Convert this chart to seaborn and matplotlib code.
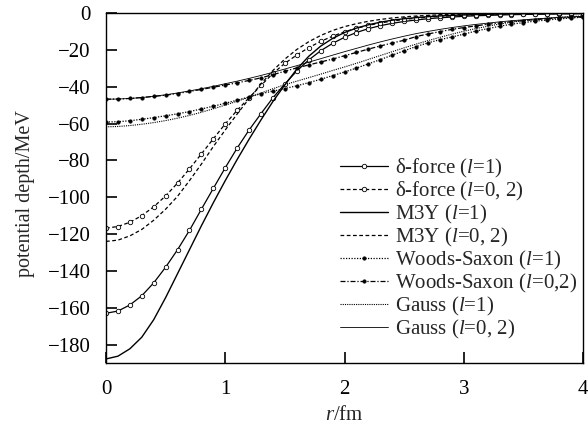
import numpy as np
import pandas as pd
import matplotlib
matplotlib.use("Agg")
import matplotlib.pyplot as plt
import seaborn as sns

# radial grid (fm)
r = [round(0.1 * i, 1) for i in range(41)]

delta_l1 = [-163.0, -161.8, -158.5, -153.5, -146.5, -138.0, -128.5, -118.0, -106.5, -95.2,
            -84.0, -73.3, -63.5, -54.6, -46.0, -38.5, -31.5, -25.5, -20.5, -16.5,
            -13.2, -10.6, -8.5, -6.9, -5.6, -4.6, -3.8, -3.1, -2.6, -2.2,
            -1.8, -1.5, -1.3, -1.1, -0.9, -0.8, -0.7, -0.6, -0.5, -0.45, -0.4]
delta_l02 = [-116.8, -115.9, -113.6, -110.0, -105.2, -99.3, -92.3, -84.6, -76.5, -68.3,
             -60.2, -52.8, -46.0, -39.3, -32.8, -27.3, -22.8, -18.8, -15.4, -12.6,
             -10.2, -8.3, -6.7, -5.4, -4.4, -3.5, -2.8, -2.3, -1.85, -1.5,
             -1.2, -1.0, -0.8, -0.65, -0.52, -0.42, -0.34, -0.28, -0.23, -0.19, -0.15]
m3y_l1 = [-187.8, -186.3, -182.3, -176.0, -166.5, -154.5, -141.5, -128.5, -115.5, -103.0,
          -91.0, -79.5, -68.5, -58.0, -48.0, -39.0, -30.5, -23.5, -18.0, -13.8,
          -10.6, -8.2, -6.4, -5.0, -3.9, -3.1, -2.5, -2.0, -1.6, -1.3,
          -1.05, -0.85, -0.7, -0.55, -0.45, -0.37, -0.3, -0.25, -0.2, -0.17, -0.14]
m3y_l02 = [-124.0, -123.3, -121.0, -117.5, -112.5, -106.5, -99.5, -91.0, -82.0, -72.5,
           -63.5, -54.8, -46.5, -38.5, -31.2, -25.0, -19.8, -15.6, -12.2, -9.5,
           -7.4, -5.8, -4.5, -3.5, -2.7, -2.1, -1.65, -1.3, -1.0, -0.8,
           -0.62, -0.5, -0.4, -0.32, -0.26, -0.21, -0.17, -0.14, -0.11, -0.09, -0.07]
ws_l1 = [-59.2, -59.0, -58.5, -57.7, -56.8, -55.8, -54.7, -53.5, -52.1, -50.6,
         -49.0, -47.3, -45.6, -43.8, -42.4, -41.0, -39.5, -37.8, -36.0, -34.0,
         -32.0, -29.9, -27.6, -25.3, -22.9, -20.5, -18.2, -16.2, -14.5, -13.0,
         -11.5, -9.8, -8.5, -7.2, -6.1, -5.2, -4.4, -3.8, -3.2, -2.7, -2.3]
ws_l02 = [-46.8, -46.7, -46.4, -45.9, -45.3, -44.6, -43.7, -42.6, -41.5, -40.3,
          -39.1, -37.9, -36.6, -35.2, -33.5, -31.6, -29.8, -28.2, -26.6, -25.0,
          -23.2, -21.4, -19.6, -17.9, -16.3, -14.8, -12.8, -11.4, -10.1, -8.9,
          -7.9, -7.0, -6.1, -5.4, -4.7, -4.1, -3.6, -3.1, -2.7, -2.4, -2.1]
gauss_l1 = [-61.8, -61.6, -61.1, -60.4, -59.5, -58.4, -57.1, -55.6, -53.9, -52.0,
            -50.0, -47.9, -45.7, -43.4, -41.1, -38.9, -37.0, -35.1, -33.2, -31.2,
            -29.3, -27.3, -25.2, -23.1, -21.0, -18.9, -16.9, -15.0, -13.2, -11.5,
            -9.9, -8.5, -7.2, -6.0, -5.0, -4.1, -3.4, -2.8, -2.3, -1.9, -1.6]
gauss_l02 = [-46.8, -46.7, -46.4, -45.9, -45.2, -44.4, -43.4, -42.3, -41.1, -39.8,
             -38.4, -37.0, -35.5, -33.9, -32.2, -30.4, -28.6, -26.7, -24.8, -22.9,
             -21.0, -19.2, -17.4, -15.7, -14.1, -12.6, -11.2, -10.0, -8.9, -7.9,
             -7.0, -6.2, -5.5, -4.8, -4.2, -3.7, -3.2, -2.8, -2.4, -2.1, -1.8]

labels = [r"δ-force ($\mathit{l}$=1)", r"δ-force ($\mathit{l}$=0, 2)",
          r"M3Y ($\mathit{l}$=1)", r"M3Y ($\mathit{l}$=0, 2)",
          r"Woods-Saxon ($\mathit{l}$=1)", r"Woods-Saxon ($\mathit{l}$=0,2)",
          r"Gauss ($\mathit{l}$=1)", r"Gauss ($\mathit{l}$=0, 2)"]
xticks = [0, 1, 2, 3, 4]
yticks = [0, -20, -40, -60, -80, -100, -120, -140, -160, -180]

sns.set_style("ticks")
plt.rcParams["font.family"] = ["Liberation Serif", "DejaVu Serif"]
plt.rcParams["mathtext.fontset"] = "custom"
plt.rcParams["mathtext.rm"] = "Liberation Serif"
plt.rcParams["mathtext.it"] = "Liberation Serif:italic"

fig = plt.figure(figsize=(5.88, 4.26), dpi=100)
ax = fig.add_axes([106 / 588, 1 - 363 / 426, 477 / 588, 350 / 426])

series = [delta_l1, delta_l02, m3y_l1, m3y_l02, ws_l1, ws_l02, gauss_l1, gauss_l02]
styles = [
    dict(linestyle="-", lw=0.9, marker="o", ms=3.2, mfc="white", mec="black", mew=0.6),
    dict(linestyle=(0, (3, 2)), lw=0.9, marker="o", ms=3.2, mfc="white", mec="black", mew=0.6),
    dict(linestyle="-", lw=1.0),
    dict(linestyle=(0, (3, 2)), lw=0.9),
    dict(linestyle=(0, (1, 1.2)), lw=0.9, marker="o", ms=2.6, mfc="black", mec="black", mew=0.3),
    dict(linestyle=(0, (4, 1.5, 1, 1.5)), lw=0.9, marker="o", ms=2.6, mfc="black", mec="black", mew=0.3),
    dict(linestyle=(0, (1, 1)), lw=0.8),
    dict(linestyle="-", lw=0.6),
]
for vals, lab, st in zip(series, labels, styles):
    sns.lineplot(x=r, y=vals, ax=ax, color="black", label=lab, estimator=None,
                 sort=False, **st)

ax.set_xlim(0, 4)
ax.set_ylim(-190, 0)
ax.set_xticks(xticks)
ax.set_yticks(yticks)
ax.set_yticklabels([("\u2212" + str(-v)) if v < 0 else str(v) for v in yticks])
ax.tick_params(direction="in", length=8, width=1.2, labelsize=15, colors="black",
               top=False, right=False)
ax.tick_params(axis="y", pad=11)
ax.tick_params(axis="x", pad=12)
for sp in ax.spines.values():
    sp.set_color("black")
    sp.set_linewidth(1.0)
ax.set_xlabel(r"$\mathit{r}$/fm", fontsize=15, labelpad=5)
ax.set_ylabel("potential depth/MeV", fontsize=14.5)
ax.yaxis.set_label_coords(-0.148, 0.483)

leg = ax.legend(loc="upper left", bbox_to_anchor=(0.4735, 0.613), frameon=False,
                fontsize=15, handlelength=2.3, handletextpad=0.34, labelspacing=0.0,
                borderaxespad=0)
fig.savefig("out.png", dpi=100)
